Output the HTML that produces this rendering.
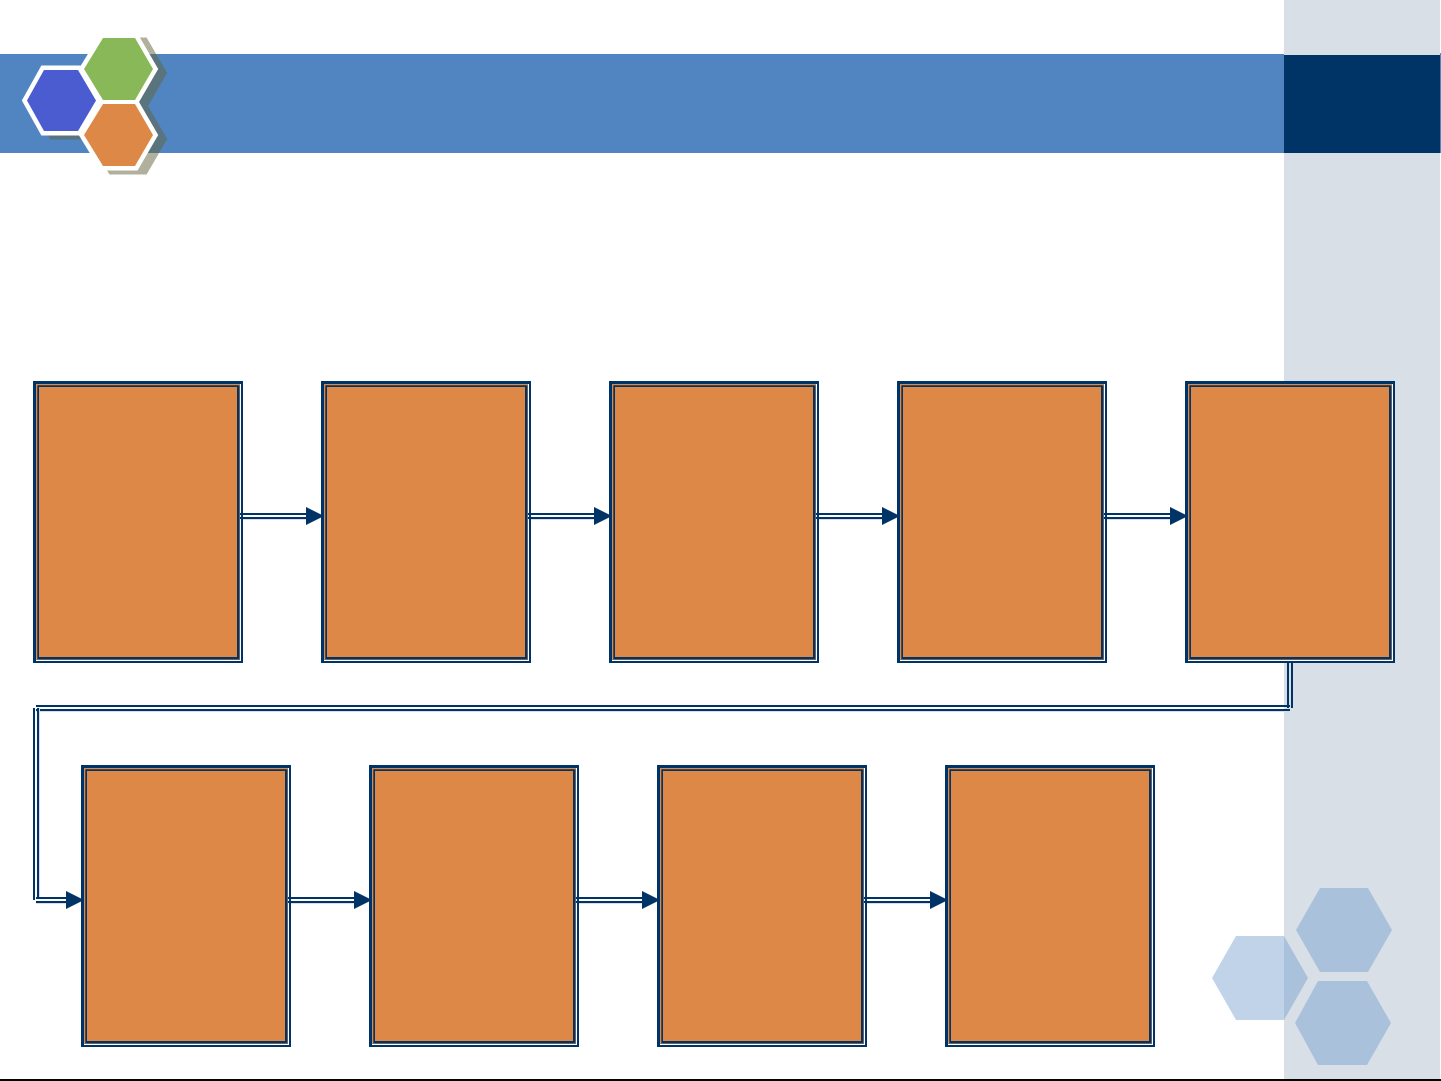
<!DOCTYPE html>
<html>
<head>
<meta charset="utf-8">
<style>
html,body{margin:0;padding:0;background:#fff;width:1441px;height:1081px;overflow:hidden}
svg{display:block}
</style>
</head>
<body>
<svg xmlns="http://www.w3.org/2000/svg" xmlns:xlink="http://www.w3.org/1999/xlink" width="1441" height="1081" viewBox="0 0 1441 1081">
<defs>
<g id="box">
<rect x="0" y="0" width="210" height="282" fill="#fff"/>
<rect x="3" y="3" width="204" height="276" fill="#dd8846"/>
<path fill-rule="evenodd" fill="#003366" d="M0 0H210V282H0ZM3 3V280H208V3Z"/>
<path fill-rule="evenodd" fill="#003366" d="M4.3 4.3H206.5V278.5H4.3ZM6 6V276H204V6Z"/>
</g>
<g id="arrow">
<rect x="0" y="0" width="68" height="2" fill="#003366"/>
<rect x="0" y="4" width="68" height="2" fill="#003366"/>
<rect x="3" y="6" width="65" height="1" fill="#d5dee9"/>
<polygon points="66,-6 84,3 66,12" fill="#003366"/>
</g>
<g id="hexes">
<polygon points="44,70 78,70 96,100.5 78,131 44,131 27,100.5"/>
<polygon points="103,38 135,38 153,69 135,100 103,100 84,69"/>
<polygon points="103,104 135,104 153,135 135,166 103,166 84,135"/>
</g>
</defs>

<!-- sidebar -->
<rect x="1284" y="0" width="156" height="1079" fill="#d8dfe6"/>
<!-- band -->
<rect x="0" y="54" width="1284" height="99" fill="#5085c2"/>
<rect x="1284" y="55" width="156" height="98" fill="#003366"/>
<rect x="1440" y="53" width="1" height="100" fill="#5085c2"/>

<!-- logo -->
<g opacity="0.5" transform="translate(9,4)">
<use xlink:href="#hexes" href="#hexes" fill="#64643c" stroke="#64643c" stroke-width="9" stroke-linejoin="miter"/>
</g>
<use xlink:href="#hexes" href="#hexes" fill="#fff" stroke="#fff" stroke-width="9" stroke-linejoin="miter"/>
<polygon points="44,70 78,70 96,100.5 78,131 44,131 27,100.5" fill="#4b5bd0"/>
<polygon points="103,38 135,38 153,69 135,100 103,100 84,69" fill="#88b858"/>
<polygon points="103,104 135,104 153,135 135,166 103,166 84,135" fill="#dd8846"/>

<!-- corner hexagons -->
<polygon points="1236,936 1284,936 1284,1020 1236,1020 1212,978" fill="#c1d3e8"/>
<polygon points="1284,936 1308,978 1284,1020" fill="#aac1db"/>
<polygon points="1320,888 1368,888 1392,930 1368,972 1320,972 1296,930" fill="#aac1db"/>
<polygon points="1318,981 1367,981 1391,1023 1367,1065 1318,1065 1295,1023" fill="#aac1db"/>

<!-- connector -->
<rect x="1287" y="660" width="2" height="48" fill="#003366"/>
<rect x="1291" y="660" width="2" height="48" fill="#003366"/>
<rect x="36" y="711" width="1254" height="1" fill="#d5dee9"/>
<rect x="36" y="705" width="1254" height="2" fill="#003366"/>
<rect x="36" y="709" width="1254" height="2" fill="#003366"/>
<rect x="39" y="708" width="1" height="191" fill="#d5dee9"/>
<rect x="33" y="708" width="2" height="192" fill="#003366"/>
<rect x="37" y="708" width="2" height="191" fill="#003366"/>
<rect x="36" y="897" width="34" height="2" fill="#003366"/>
<rect x="36" y="901" width="34" height="2" fill="#003366"/>
<rect x="36" y="903" width="34" height="1" fill="#d5dee9"/>

<!-- row 1 -->
<use xlink:href="#box" href="#box" x="33" y="381"/>
<use xlink:href="#box" href="#box" x="321" y="381"/>
<use xlink:href="#box" href="#box" x="609" y="381"/>
<use xlink:href="#box" href="#box" x="897" y="381"/>
<use xlink:href="#box" href="#box" x="1185" y="381"/>
<!-- row 2 -->
<use xlink:href="#box" href="#box" x="81" y="765"/>
<use xlink:href="#box" href="#box" x="369" y="765"/>
<use xlink:href="#box" href="#box" x="657" y="765"/>
<use xlink:href="#box" href="#box" x="945" y="765"/>

<!-- arrows -->
<use xlink:href="#arrow" href="#arrow" x="240" y="513"/>
<use xlink:href="#arrow" href="#arrow" x="528" y="513"/>
<use xlink:href="#arrow" href="#arrow" x="816" y="513"/>
<use xlink:href="#arrow" href="#arrow" x="1104" y="513"/>
<use xlink:href="#arrow" href="#arrow" x="288" y="897"/>
<use xlink:href="#arrow" href="#arrow" x="576" y="897"/>
<use xlink:href="#arrow" href="#arrow" x="864" y="897"/>
<polygon points="66,891 84,900 66,909" fill="#003366"/>

<!-- bottom line -->
<rect x="0" y="1079" width="1441" height="2" fill="#000"/>
</svg>
</body>
</html>
